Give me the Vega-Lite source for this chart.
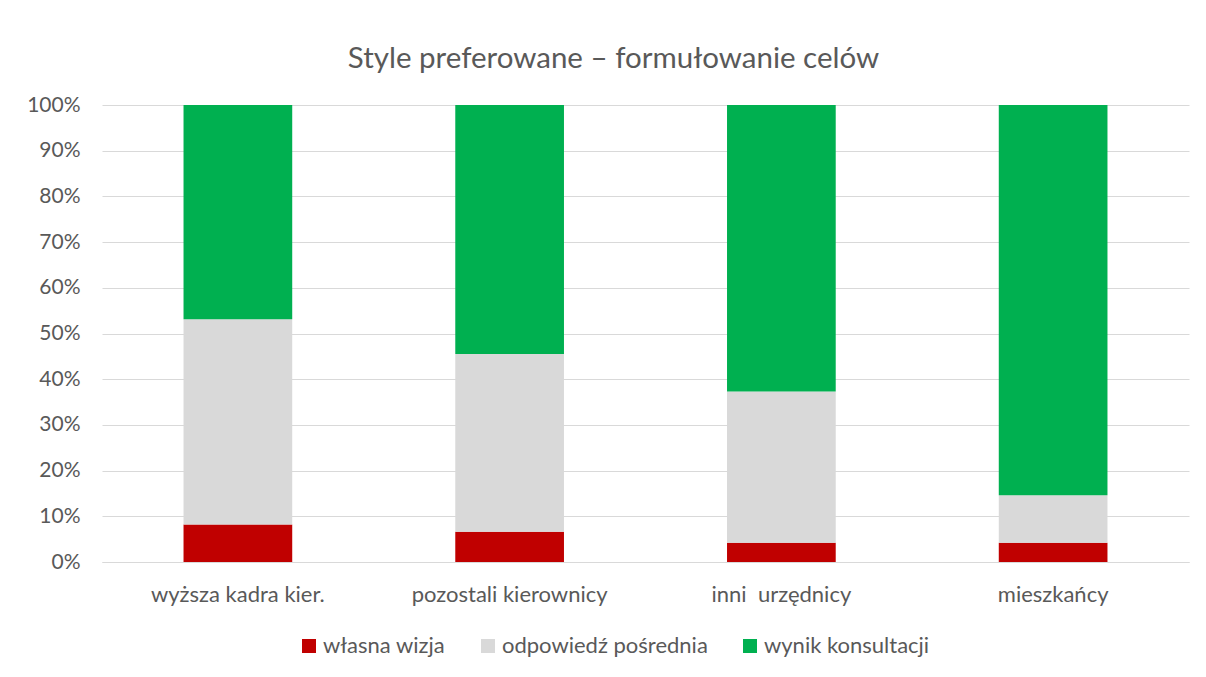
{
  "$schema": "https://vega.github.io/schema/vega-lite/v6.json",
  "autosize": {"type": "none"},
  "width": 1087,
  "height": 457,
  "padding": {"left": 102, "top": 105, "right": 17, "bottom": 115},
  "background": "#ffffff",
  "title": {
    "text": "Style preferowane – formułowanie celów",
    "font": "Lato",
    "fontSize": 29.5,
    "fontWeight": "normal",
    "color": "#595959",
    "anchor": "middle",
    "baseline": "alphabetic",
    "offset": -3,
    "dx": -32
  },
  "data": {
    "values": [
      {"grupa": "wyższa kadra kier.", "styl": "własna wizja", "k": 1, "udzial": 8.2},
      {"grupa": "wyższa kadra kier.", "styl": "odpowiedź pośrednia", "k": 2, "udzial": 44.9},
      {"grupa": "wyższa kadra kier.", "styl": "wynik konsultacji", "k": 3, "udzial": 46.9},
      {"grupa": "pozostali kierownicy", "styl": "własna wizja", "k": 1, "udzial": 6.6},
      {"grupa": "pozostali kierownicy", "styl": "odpowiedź pośrednia", "k": 2, "udzial": 38.9},
      {"grupa": "pozostali kierownicy", "styl": "wynik konsultacji", "k": 3, "udzial": 54.5},
      {"grupa": "inni\u00a0 urzędnicy", "styl": "własna wizja", "k": 1, "udzial": 4.2},
      {"grupa": "inni\u00a0 urzędnicy", "styl": "odpowiedź pośrednia", "k": 2, "udzial": 33.1},
      {"grupa": "inni\u00a0 urzędnicy", "styl": "wynik konsultacji", "k": 3, "udzial": 62.7},
      {"grupa": "mieszkańcy", "styl": "własna wizja", "k": 1, "udzial": 4.2},
      {"grupa": "mieszkańcy", "styl": "odpowiedź pośrednia", "k": 2, "udzial": 10.4},
      {"grupa": "mieszkańcy", "styl": "wynik konsultacji", "k": 3, "udzial": 85.4}
    ]
  },
  "mark": {"type": "bar"},
  "encoding": {
    "x": {
      "field": "grupa",
      "type": "nominal",
      "sort": null,
      "scale": {"paddingInner": 0.6, "paddingOuter": 0.3},
      "axis": {
        "title": null,
        "labelAngle": 0,
        "labelLimit": 0,
        "labelFont": "Lato",
        "labelFontSize": 22,
        "labelColor": "#595959",
        "labelPadding": 22,
        "ticks": false,
        "tickSize": 0,
        "domainColor": "#D9D9D9",
        "domainWidth": 1
      }
    },
    "y": {
      "field": "udzial",
      "type": "quantitative",
      "stack": "normalize",
      "scale": {"domain": [0, 1], "nice": false},
      "axis": {
        "title": null,
        "values": [0, 0.1, 0.2, 0.3, 0.4, 0.5, 0.6, 0.7, 0.8, 0.9, 1],
        "format": ".0%",
        "labelFont": "Lato",
        "labelFontSize": 21,
        "labelColor": "#595959",
        "labelPadding": 22,
        "ticks": false,
        "tickSize": 0,
        "domain": false,
        "gridColor": "#D9D9D9",
        "gridWidth": 1
      }
    },
    "color": {
      "field": "styl",
      "type": "nominal",
      "scale": {
        "domain": ["własna wizja", "odpowiedź pośrednia", "wynik konsultacji"],
        "range": ["#C00000", "#D9D9D9", "#00B050"]
      },
      "legend": {
        "title": null,
        "orient": "none",
        "direction": "horizontal",
        "legendX": 196,
        "legendY": 530,
        "symbolType": "square",
        "symbolSize": 196,
        "symbolStrokeWidth": 0,
        "symbolOpacity": 1,
        "labelFont": "Lato",
        "labelFontSize": 22,
        "labelColor": "#595959",
        "labelLimit": 0,
        "labelOffset": 3,
        "columnPadding": 31
      }
    },
    "order": {"field": "k", "type": "quantitative"}
  },
  "config": {
    "view": {"stroke": null}
  }
}
